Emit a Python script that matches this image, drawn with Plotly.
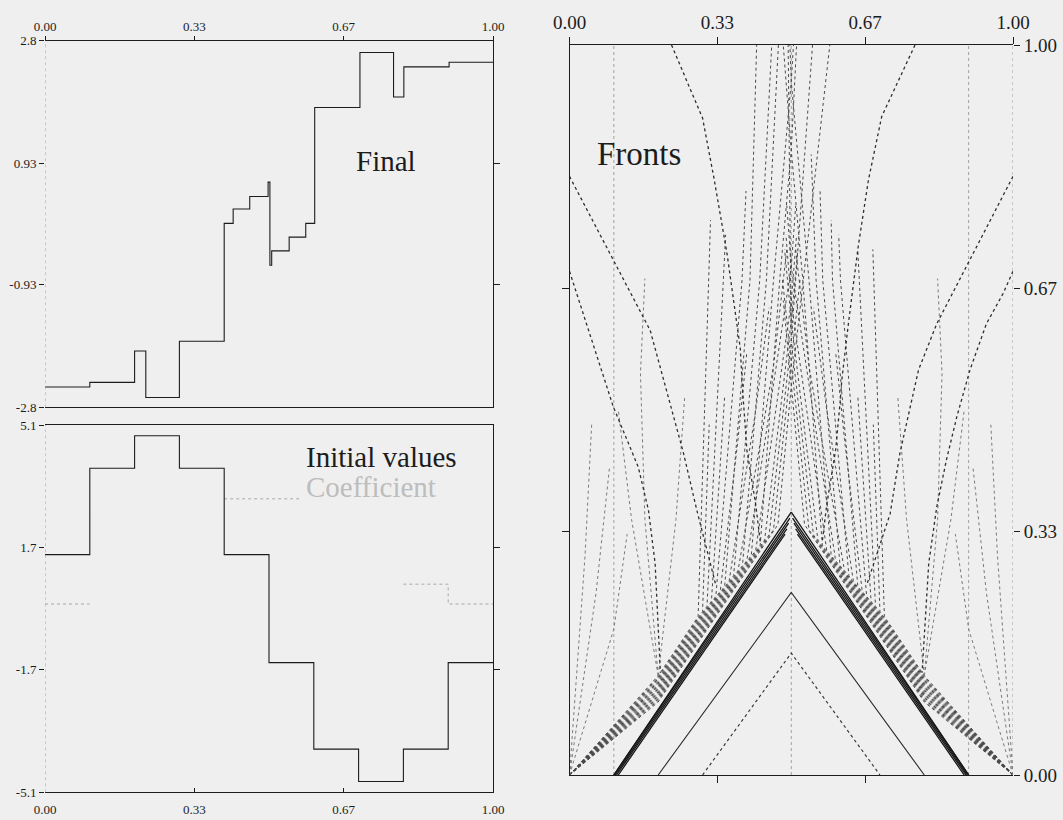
import plotly.graph_objects as go

# ---------------- data ----------------
# "Final" state: piecewise-constant profile (breakpoints and levels)
final_x = [0.000, 0.100, 0.200, 0.225, 0.300, 0.400, 0.420, 0.457, 0.498, 0.502,
           0.506, 0.545, 0.582, 0.602, 0.703, 0.778, 0.801, 0.902, 1.000]
final_y = [-2.49, -2.42, -1.94, -2.65, -1.79, 0.01, 0.23, 0.42, 0.64, -0.63,
           -0.41, -0.20, 0.01, 1.78, 2.62, 1.94, 2.40, 2.47, 2.47]

# Initial values on ten cells
init_x = [0.0, 0.1, 0.2, 0.3, 0.4, 0.5, 0.6, 0.7, 0.8, 0.9, 1.0]
init_y = [1.5, 3.9, 4.8, 3.9, 1.5, -1.5, -3.9, -4.8, -3.9, -1.5, -1.5]

# Coefficient pieces (only the parts that are drawn)
coef_pieces = [
    ([0.0, 0.1], [0.13, 0.13]),
    ([0.4, 0.57], [3.05, 3.05]),
    ([0.8, 0.9, 0.9, 1.0], [0.68, 0.68, 0.13, 0.13]),
]

# Fronts in the (x, t) plane, each a polyline of vertices
interface_x = [0.1, 0.5, 0.9, 1.0]

heavy_fronts = [
    [(0.100, 0.0), (0.500, 0.360)], [(0.100, 0.0), (0.497, 0.352)],
    [(0.103, 0.0), (0.494, 0.345)], [(0.106, 0.0), (0.490, 0.337)],
    [(0.110, 0.0), (0.486, 0.330)],
    [(0.900, 0.0), (0.500, 0.360)], [(0.900, 0.0), (0.503, 0.352)],
    [(0.897, 0.0), (0.506, 0.345)], [(0.894, 0.0), (0.510, 0.337)],
    [(0.890, 0.0), (0.514, 0.330)],
]

inner_solid = [[(0.200, 0.0), (0.500, 0.250), (0.800, 0.0)]]
inner_dotted = [[(0.300, 0.0), (0.500, 0.167), (0.700, 0.0)]]

band_left = [
    [(0, 0), (0.200, 0.100), (0.470, 0.343), (0.500, 0.532), (0.587, 1.000)],
    [(0, 0), (0.200, 0.104), (0.450, 0.329), (0.500, 0.594), (0.548, 1.000)],
    [(0, 0), (0.200, 0.108), (0.430, 0.315), (0.474, 0.678), (0.500, 0.856), (0.512, 1.000)],
    [(0, 0), (0.200, 0.112), (0.410, 0.301), (0.460, 0.678), (0.500, 0.950), (0.505, 1.000)],
    [(0, 0), (0.200, 0.116), (0.390, 0.287), (0.444, 0.678), (0.471, 1.000)],
    [(0, 0), (0.200, 0.120), (0.370, 0.273), (0.429, 0.678), (0.456, 1.000)],
    [(0, 0), (0.200, 0.124), (0.350, 0.259), (0.407, 0.678), (0.422, 1.000)],
    [(0, 0), (0.200, 0.128), (0.330, 0.245), (0.389, 0.678), (0.398, 0.800)],
    [(0, 0), (0.200, 0.132), (0.310, 0.231), (0.347, 0.678), (0.352, 0.740)],
    [(0, 0), (0.200, 0.136), (0.290, 0.217), (0.313, 0.678), (0.318, 0.760)],
    [(0, 0), (0.200, 0.102), (0.460, 0.336), (0.500, 0.560), (0.520, 0.680)],
    [(0, 0), (0.200, 0.106), (0.440, 0.322), (0.500, 0.623), (0.515, 0.720)],
    [(0, 0), (0.200, 0.110), (0.420, 0.308), (0.500, 0.648), (0.512, 0.740)],
    [(0, 0), (0.200, 0.114), (0.400, 0.294), (0.500, 0.696), (0.510, 0.780)],
    [(0, 0), (0.200, 0.118), (0.380, 0.280), (0.460, 0.560), (0.490, 0.720)],
    [(0, 0), (0.200, 0.122), (0.360, 0.266), (0.420, 0.500), (0.450, 0.640)],
    [(0, 0), (0.200, 0.126), (0.340, 0.252), (0.380, 0.460), (0.400, 0.580)],
    [(0, 0), (0.200, 0.130), (0.320, 0.238), (0.340, 0.420), (0.350, 0.520)],
    [(0, 0), (0.200, 0.134), (0.300, 0.224), (0.310, 0.400), (0.315, 0.480)],
]
band_right = [
    [(1, 0), (0.800, 0.100), (0.530, 0.343), (0.500, 0.532), (0.482, 0.650)],
    [(1, 0), (0.800, 0.104), (0.550, 0.329), (0.500, 0.594), (0.493, 1.000)],
    [(1, 0), (0.800, 0.108), (0.570, 0.315), (0.526, 0.678), (0.500, 0.856), (0.482, 1.000)],
    [(1, 0), (0.800, 0.112), (0.590, 0.301), (0.540, 0.678), (0.500, 0.950), (0.497, 1.000)],
    [(1, 0), (0.800, 0.116), (0.610, 0.287), (0.556, 0.678), (0.545, 0.850)],
    [(1, 0), (0.800, 0.120), (0.630, 0.273), (0.571, 0.678), (0.565, 0.800)],
    [(1, 0), (0.800, 0.124), (0.650, 0.259), (0.593, 0.678), (0.590, 0.760)],
    [(1, 0), (0.800, 0.128), (0.670, 0.245), (0.611, 0.678), (0.607, 0.740)],
    [(1, 0), (0.800, 0.132), (0.690, 0.231), (0.653, 0.678), (0.650, 0.720)],
    [(1, 0), (0.800, 0.136), (0.710, 0.217), (0.687, 0.678), (0.684, 0.720)],
    [(1, 0), (0.800, 0.102), (0.540, 0.336), (0.500, 0.560), (0.480, 0.680)],
    [(1, 0), (0.800, 0.106), (0.560, 0.322), (0.500, 0.623), (0.485, 0.720)],
    [(1, 0), (0.800, 0.110), (0.580, 0.308), (0.500, 0.648), (0.488, 0.740)],
    [(1, 0), (0.800, 0.114), (0.600, 0.294), (0.500, 0.696), (0.490, 0.780)],
    [(1, 0), (0.800, 0.118), (0.620, 0.280), (0.540, 0.560), (0.510, 0.720)],
    [(1, 0), (0.800, 0.122), (0.640, 0.266), (0.580, 0.500), (0.550, 0.640)],
    [(1, 0), (0.800, 0.126), (0.660, 0.252), (0.620, 0.460), (0.600, 0.580)],
    [(1, 0), (0.800, 0.130), (0.680, 0.238), (0.660, 0.420), (0.650, 0.520)],
    [(1, 0), (0.800, 0.134), (0.700, 0.224), (0.690, 0.400), (0.685, 0.480)],
]

misc_fronts = [
    [(0.200, 0.136), (0.140, 0.350), (0.110, 0.500)],
    [(0.200, 0.136), (0.170, 0.350), (0.160, 0.550), (0.170, 0.680)],
    [(0.200, 0.136), (0.240, 0.350), (0.260, 0.520)],
    [(0.000, 0.000), (0.060, 0.250), (0.090, 0.420)],
    [(0.000, 0.000), (0.035, 0.300), (0.050, 0.480)],
    [(0.000, 0.000), (0.100, 0.200), (0.130, 0.330)],
    [(0.800, 0.136), (0.860, 0.350), (0.890, 0.500)],
    [(0.800, 0.136), (0.830, 0.350), (0.840, 0.550), (0.830, 0.680)],
    [(0.800, 0.136), (0.760, 0.350), (0.740, 0.520)],
    [(1.000, 0.000), (0.940, 0.250), (0.910, 0.420)],
    [(1.000, 0.000), (0.965, 0.300), (0.950, 0.480)],
    [(1.000, 0.000), (0.900, 0.200), (0.870, 0.330)],
]

dark_fronts = [
    [(0.230, 1.000), (0.300, 0.900), (0.325, 0.820), (0.355, 0.715), (0.370, 0.650),
     (0.385, 0.585), (0.390, 0.530), (0.400, 0.445), (0.420, 0.370), (0.430, 0.320)],
    [(0.000, 0.820), (0.129, 0.669), (0.182, 0.609), (0.257, 0.441), (0.287, 0.363),
     (0.330, 0.260)],
    [(0.000, 0.690), (0.054, 0.587), (0.099, 0.504), (0.155, 0.422), (0.178, 0.363),
     (0.193, 0.290), (0.205, 0.140)],
    [(0.779, 1.000), (0.704, 0.902), (0.674, 0.815), (0.651, 0.724), (0.629, 0.619),
     (0.614, 0.541), (0.610, 0.509), (0.600, 0.445), (0.580, 0.370), (0.570, 0.320)],
    [(1.000, 0.820), (0.869, 0.667), (0.828, 0.618), (0.787, 0.555), (0.745, 0.441),
     (0.723, 0.358), (0.670, 0.260)],
    [(1.000, 0.690), (0.978, 0.660), (0.940, 0.618), (0.903, 0.555), (0.873, 0.490),
     (0.850, 0.432), (0.828, 0.367), (0.810, 0.290), (0.795, 0.140)],
]

tick01_vals = [0, 1 / 3, 2 / 3, 1]
tick01_text = ["0.00", "0.33", "0.67", "1.00"]

# ---------------- styling ----------------
BG = "#efefef"
INK = "#1c1c1c"
SERIF = "Liberation Serif, Times New Roman, serif"


def flatten(polylines):
    xs, ys = [], []
    for line in polylines:
        for x, t in line:
            xs.append(x)
            ys.append(t)
        xs.append(None)
        ys.append(None)
    return xs, ys


fig = go.Figure()

# Final
fig.add_trace(go.Scatter(x=final_x, y=final_y, mode="lines", line_shape="hv",
                         line=dict(color=INK, width=1.1), xaxis="x", yaxis="y",
                         hoverinfo="skip"))

# Coefficient (faint dotted) and initial values
for cx, cy in coef_pieces:
    fig.add_trace(go.Scatter(x=cx, y=cy, mode="lines",
                             line=dict(color="#a8a8a8", width=1, dash="dot"),
                             xaxis="x3", yaxis="y3", hoverinfo="skip"))
fig.add_trace(go.Scatter(x=init_x, y=init_y, mode="lines", line_shape="hv",
                         line=dict(color=INK, width=1.1), xaxis="x3", yaxis="y3",
                         hoverinfo="skip"))

# Fronts
vx, vy = flatten([[(x, 0.0), (x, 1.0)] for x in interface_x])
fig.add_trace(go.Scatter(x=vx, y=vy, mode="lines",
                         line=dict(color="#a0a0a0", width=1, dash="dot"),
                         xaxis="x5", yaxis="y5", hoverinfo="skip"))
for group, color, width, dash in [
    (band_left + band_right, "#4a4a4a", 1.0, "dot"),
    (misc_fronts, "#7a7a7a", 1.0, "dot"),
    (inner_dotted, "#3a3a3a", 1.2, "dot"),
    (inner_solid, "#2a2a2a", 1.1, "solid"),
    (dark_fronts, "#2e2e2e", 1.3, "dot"),
    (heavy_fronts, "#151515", 1.3, "solid"),
]:
    gx, gy = flatten(group)
    fig.add_trace(go.Scatter(x=gx, y=gy, mode="lines",
                             line=dict(color=color, width=width, dash=dash),
                             xaxis="x5", yaxis="y5", hoverinfo="skip"))

# empty traces so the secondary (overlaid) axes get drawn
for xa, ya in [("x", "y2"), ("x3", "y4"), ("x6", "y5"), ("x5", "y6")]:
    fig.add_trace(go.Scatter(x=[None], y=[None], mode="markers", xaxis=xa, yaxis=ya,
                             hoverinfo="skip", showlegend=False))

# ---------------- axes ----------------
LX = [45 / 1063, 493 / 1063]
TOP_Y = [1 - 407.3 / 820, 1 - 40.7 / 820]
BOT_Y = [1 - 792.3 / 820, 1 - 425 / 820]
RX = [569.5 / 1063, 1013 / 1063]
RY = [1 - 775 / 820, 1 - 45 / 820]

small = dict(family=SERIF, size=13, color=INK)
big = dict(family=SERIF, size=19, color=INK)

common = dict(showgrid=False, zeroline=False, linecolor=INK, linewidth=1,
              tickcolor=INK, fixedrange=True, automargin=False)

layout = dict(
    width=1063, height=820, margin=dict(l=0, r=0, t=0, b=0, autoexpand=False),
    paper_bgcolor=BG, plot_bgcolor=BG, showlegend=False,
    # top-left panel
    xaxis=dict(domain=LX, anchor="y", range=[0, 1], side="top", showline=True,
               mirror=True, ticks="outside", ticklen=4, tickvals=tick01_vals,
               ticktext=tick01_text, tickfont=small, **common),
    yaxis=dict(domain=TOP_Y, anchor="x", range=[-2.8, 2.8], showline=False,
               ticks="outside", ticklen=5, tickvals=[-2.8, -0.93, 0.93, 2.8],
               ticktext=["-2.8", "-0.93", "0.93", "2.8"], tickfont=small, **common),
    yaxis2=dict(overlaying="y", anchor="x", side="right", range=[-2.8, 2.8],
                showline=True, ticks="outside", ticklen=6, tickvals=[-0.93, 0.93],
                showticklabels=False, **common),
    # bottom-left panel
    xaxis3=dict(domain=LX, anchor="y3", range=[0, 1], side="bottom", showline=True,
                mirror=True, ticks="inside", ticklen=4, tickvals=tick01_vals,
                ticktext=tick01_text, tickfont=small, ticklabelstandoff=5, **common),
    yaxis3=dict(domain=BOT_Y, anchor="x3", range=[-5.1, 5.1], showline=False,
                ticks="outside", ticklen=5, tickvals=[-5.1, -1.7, 1.7, 5.1],
                ticktext=["-5.1", "-1.7", "1.7", "5.1"], tickfont=small, **common),
    yaxis4=dict(overlaying="y3", anchor="x3", side="right", range=[-5.1, 5.1],
                showline=True, ticks="outside", ticklen=6, tickvals=[-1.7, 1.7],
                showticklabels=False, **common),
    # fronts panel
    xaxis5=dict(domain=RX, anchor="y5", range=[0, 1], side="bottom", showline=True,
                ticks="outside", ticklen=7, tickvals=[1 / 3, 2 / 3],
                showticklabels=False, **common),
    xaxis6=dict(overlaying="x5", anchor="y5", side="top", range=[0, 1], showline=True,
                ticks="outside", ticklen=7, tickvals=tick01_vals, ticktext=tick01_text,
                tickfont=big, **common),
    yaxis5=dict(domain=RY, anchor="x5", range=[0, 1], showline=True,
                ticks="outside", ticklen=7, tickvals=[1 / 3, 2 / 3],
                showticklabels=False, **common),
    yaxis6=dict(overlaying="y5", anchor="x5", side="right", range=[0, 1],
                showline=False, ticks="outside", ticklen=6, tickvals=tick01_vals,
                ticktext=tick01_text, tickfont=big, **common),
)
fig.update_layout(**layout)

# faint dotted left edges of the two profile panels
for xr, yr in [("x", "y"), ("x3", "y3")]:
    fig.add_shape(type="line", xref=xr, yref=f"{yr} domain",
                  x0=0, x1=0, y0=0, y1=1,
                  line=dict(color="#a0a0a0", width=1, dash="dot"))

# panel titles
fig.add_annotation(text="Final", xref="paper", yref="paper", x=386 / 1063, y=1 - 143 / 820,
                   showarrow=False, font=dict(family=SERIF, size=29, color=INK))
fig.add_annotation(text="Initial values", xref="paper", yref="paper", x=381 / 1063,
                   y=1 - 457 / 820, showarrow=False,
                   font=dict(family=SERIF, size=29, color=INK))
fig.add_annotation(text="Coefficient", xref="paper", yref="paper", x=371 / 1063,
                   y=1 - 487 / 820, showarrow=False,
                   font=dict(family=SERIF, size=29, color="#bdbdbd"))
fig.add_annotation(text="Fronts", xref="paper", yref="paper", x=639 / 1063,
                   y=1 - 134 / 820, showarrow=False,
                   font=dict(family=SERIF, size=33, color=INK))

fig.write_html("out.html")
